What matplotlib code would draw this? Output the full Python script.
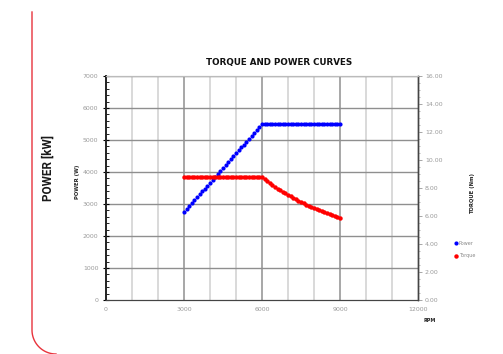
import matplotlib.pyplot as plt
import numpy as np
from matplotlib.ticker import MultipleLocator, FixedLocator
from matplotlib.lines import Line2D

# data
rpm = list(range(3000, 9001, 100))
power = [2750, 2842, 2933, 3025, 3117, 3208, 3300, 3392, 3483, 3575,
         3667, 3758, 3850, 3942, 4033, 4125, 4217, 4308, 4400, 4492,
         4583, 4675, 4767, 4858, 4950, 5042, 5133, 5225, 5317, 5408,
         5500] + [5500] * 30
torque = [8.75] * 31 + [8.61, 8.47, 8.34, 8.21, 8.08, 7.96, 7.84, 7.72, 7.61, 7.50,
                        7.40, 7.30, 7.20, 7.10, 7.00, 6.91, 6.82, 6.73, 6.65, 6.57,
                        6.48, 6.41, 6.33, 6.25, 6.18, 6.11, 6.04, 5.97, 5.90, 5.84]
x_ticks = [0, 3000, 6000, 9000, 12000]
power_ticks = [0, 1000, 2000, 3000, 4000, 5000, 6000, 7000]
torque_ticks = [0, 2, 4, 6, 8, 10, 12, 14, 16]

W, H = 503, 354
fig = plt.figure(figsize=(W / 100, H / 100), dpi=100)
ax = fig.add_axes([106 / W, 1 - 300 / H, 312 / W, 224 / H])
ax2 = ax.twinx()

grey = '#999999'
lab = '#9a9a9a'

# grid
for xv in range(1000, 12000, 1000):
    c = '#8f8f8f' if xv % 3000 == 0 else '#d0d0d0'
    ax.axvline(xv, color=c, lw=1.1, zorder=0)
for yv in power_ticks[1:]:
    ax.axhline(yv, color='#8f8f8f', lw=1.0, zorder=0)

ax.plot(rpm, power, 'o', color='#0000ff', ms=3.0, mew=0, zorder=3, label='Power')
ax2.plot(rpm, torque, 'o', color='#ff0000', ms=3.2, mew=0, zorder=3, label='Torque')

ax.set_xlim(0, 12000)
ax.set_ylim(0, 7000)
ax2.set_ylim(0, 16)
ax.xaxis.set_major_locator(FixedLocator(x_ticks))
ax.set_yticks(power_ticks)
ax.yaxis.set_minor_locator(MultipleLocator(200))
ax2.set_yticks(torque_ticks)
ax2.set_yticklabels(['%.2f' % t for t in torque_ticks])
ax2.yaxis.set_minor_locator(MultipleLocator(0.5))

ax.tick_params(axis='x', length=0, labelsize=4.5, labelcolor=lab, pad=5)
ax.tick_params(axis='y', which='major', direction='inout', length=5, width=0.8,
               labelsize=4.5, labelcolor=lab, pad=3)
ax.tick_params(axis='y', which='minor', direction='in', length=2, width=0.6)
ax2.tick_params(axis='y', which='major', direction='out', length=3, width=0.6,
                color=grey, labelsize=4.5, labelcolor=lab, pad=2)
ax2.tick_params(axis='y', which='minor', direction='out', length=1.5, width=0.5, color=grey)

for a in (ax, ax2):
    a.spines['top'].set_color('#bbbbbb')
    a.spines['left'].set_color('#222222')
    a.spines['bottom'].set_color('#444444')
    a.spines['right'].set_color('#444444')
    a.spines['left'].set_linewidth(1.2)
    a.spines['right'].set_linewidth(1.0)

fig.text(279 / W, 1 - 62 / H, 'TORQUE AND POWER CURVES', ha='center', va='center',
         fontsize=6.3, fontweight='bold', color='#111111')
fig.text(78 / W, 1 - 182 / H, 'POWER (W)', rotation=90, ha='center', va='center',
         fontsize=3.8, fontweight='bold', color='#222222')
fig.text(473 / W, 1 - 194 / H, 'TORQUE (Nm)', rotation=90, ha='center', va='center',
         fontsize=3.8, fontweight='bold', color='#222222')
fig.text(430 / W, 1 - 320 / H, 'RPM', ha='center', va='center',
         fontsize=3.5, fontweight='bold', color='#222222')
fig.text(48 / W, 1 - 168 / H, 'POWER [kW]', rotation=90, ha='center', va='center',
         fontsize=8.5, fontweight='bold', color='#1a1a1a', family='Roboto')

# legend to the right
h1, l1 = ax.get_legend_handles_labels()
h2, l2 = ax2.get_legend_handles_labels()
leg = fig.legend(h1 + h2, l1 + l2, loc='center left',
                 bbox_to_anchor=(450 / W, 1 - 249.5 / H), frameon=False,
                 fontsize=3.5, handlelength=0.6, handletextpad=0.3,
                 labelspacing=1.6, markerscale=1.0)
for t in leg.get_texts():
    t.set_color('#888888')

# red decorative border with rounded bottom
r = 24
cx, cy = 56, 330
ang = np.linspace(np.pi, 1.5 * np.pi, 40)
xs = [32, 32] + list(cx + r * np.cos(ang))
ys = [12, cy] + list(cy - r * np.sin(ang))
fig.add_artist(Line2D([v / W for v in xs], [1 - v / H for v in ys],
                      transform=fig.transFigure, color='#e8333c', lw=1.0))

fig.savefig('out.png', dpi=100)
